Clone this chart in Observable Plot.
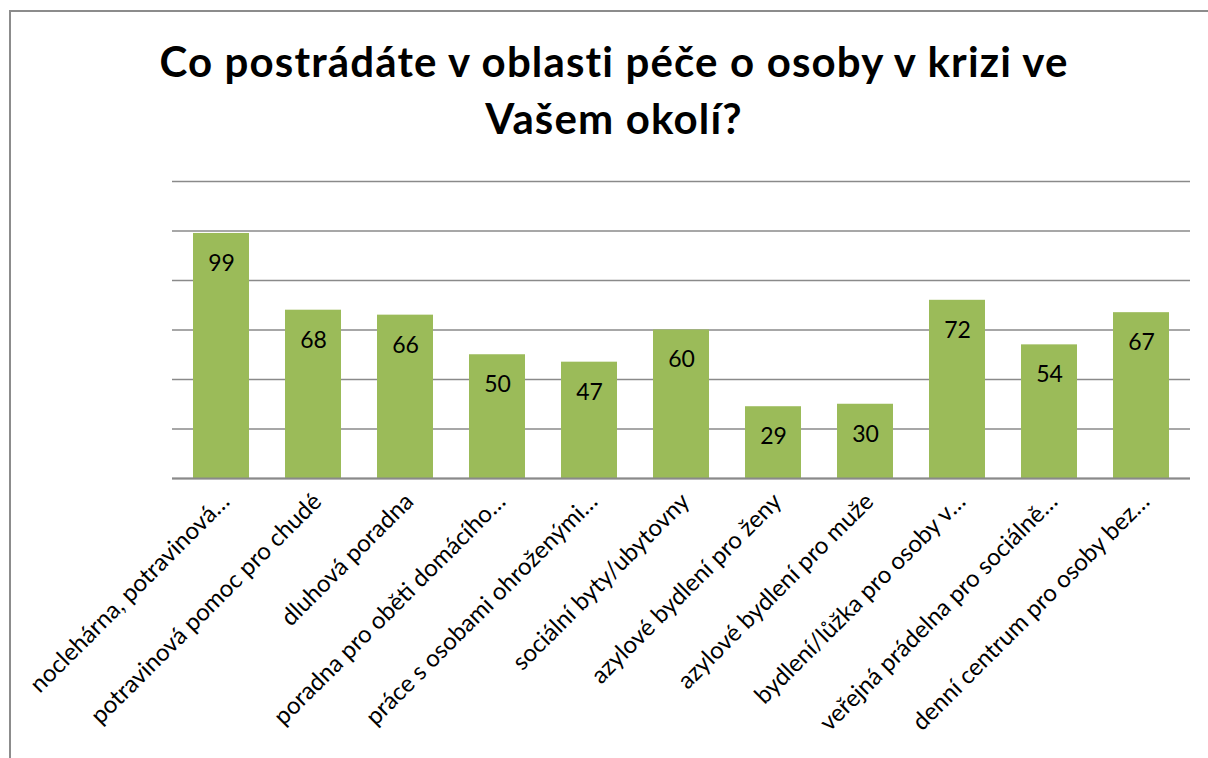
<!DOCTYPE html>
<html>
<head>
<meta charset="utf-8">
<script src="https://cdn.jsdelivr.net/npm/d3@7"></script>
<script src="https://cdn.jsdelivr.net/npm/@observablehq/plot@0.6"></script>
<style>
  html, body { margin: 0; padding: 0; background: #fff; }
  #wrap { position: relative; width: 1208px; height: 758px; overflow: hidden; background: #fff; }
  #frame { position: absolute; left: 9px; top: 10px; width: 1400px; height: 1000px; border-left: 2px solid #8c8c8c; border-top: 2px solid #8c8c8c; }
  #title { position: absolute; left: 10px; top: 33px; width: 1208px; text-align: center; font-family: Lato, "Open Sans", sans-serif; font-weight: bold; font-size: 42px; letter-spacing: 1.15px; line-height: 57px; color: #000; }
  #chart { position: absolute; left: 0; top: 0; }
</style>
</head>
<body>
<div id="wrap">
  <div id="frame"></div>
  <div id="title">Co postrádáte v oblasti péče o osoby v krizi ve<br>Vašem okolí?</div>
  <div id="chart"></div>
</div>
<script>
const categories = [
  "noclehárna, potravinová…",
  "potravinová pomoc pro chudé",
  "dluhová poradna",
  "poradna pro oběti domácího…",
  "práce s osobami ohroženými…",
  "sociální byty/ubytovny",
  "azylové bydlení pro ženy",
  "azylové bydlení pro muže",
  "bydlení/lůžka pro osoby v…",
  "veřejná prádelna pro sociálně…",
  "denní centrum pro osoby bez…"
];
const values = [99, 68, 66, 50, 47, 60, 29, 30, 72, 54, 67];
const gridTicks = [0, 20, 40, 60, 80, 100, 120];

const data = categories.map((c, i) => ({category: c, value: values[i]}));

const chart = Plot.plot({
  width: 1208,
  height: 758,
  marginLeft: 172,
  marginRight: 18,
  marginTop: 181,
  marginBottom: 280,
  style: {fontFamily: "Lato, 'Open Sans', sans-serif", background: "transparent"},
  x: {domain: categories, paddingInner: 0.395, paddingOuter: 0.1975},
  y: {domain: [0, 120]},
  marks: [
    Plot.ruleY(gridTicks, {stroke: "#8a8a8a", strokeWidth: 1.6}),
    Plot.barY(data, {x: "category", y: "value", fill: "#9bbb59"}),
    Plot.ruleY([0], {stroke: "#8a8a8a", strokeWidth: 1.8}),
    Plot.text(data, {x: "category", y: "value", text: d => String(d.value), dy: 30, fontSize: 23, fill: "#000"}),
    Plot.axisX({tickRotate: -45, tickSize: 0, tickPadding: 19, dx: 4, fontSize: 24, fill: "#000", label: null}),
    Plot.axisY({ticks: [], label: null, tickSize: 0})
  ]
});
document.getElementById("chart").appendChild(chart);
</script>
</body>
</html>
